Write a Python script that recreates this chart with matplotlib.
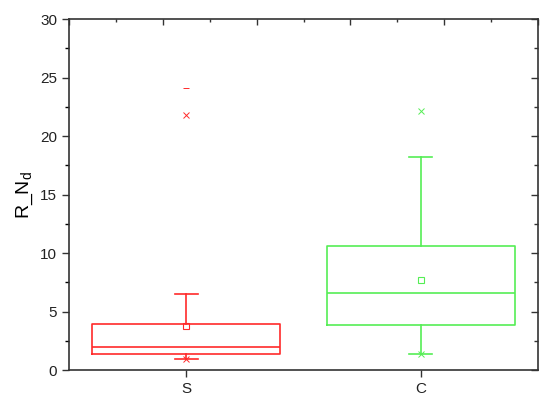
import matplotlib.pyplot as plt
from matplotlib.ticker import MultipleLocator

plt.rcParams['font.family'] = ['Liberation Sans', 'DejaVu Sans']
plt.rcParams['mathtext.default'] = 'regular'

# Box statistics
groups = ['S', 'C']
q1 = [1.35, 3.82]
med = [2.0, 6.55]
q3 = [3.9, 10.62]
whislo = [0.97, 1.4]
whishi = [6.52, 18.2]
means = [3.8, 7.7]
pct_hi = [21.8, 22.1]      # 'x' markers
max_vals = [24.1, None]    # '-' markers
colors = ['#ff2a2a', '#55ee55']

fig = plt.figure(figsize=(5.5, 4.08), dpi=100)
ax = fig.add_axes([0.1255, 0.0931, 0.8527, 0.8603])

stats = []
for i, g in enumerate(groups):
    stats.append(dict(label=g, q1=q1[i], med=med[i], q3=q3[i],
                      whislo=whislo[i], whishi=whishi[i], mean=means[i], fliers=[]))

pos = [1, 2]
for i in range(len(groups)):
    c = colors[i]
    ax.bxp([stats[i]], positions=[pos[i]], widths=0.8, showmeans=True,
           showfliers=False, capwidths=0.1,
           boxprops=dict(color=c, lw=1.2),
           medianprops=dict(color=c, lw=1.2),
           whiskerprops=dict(color=c, lw=1.2),
           capprops=dict(color=c, lw=1.2),
           meanprops=dict(marker='s', markersize=4, markerfacecolor='none',
                          markeredgecolor=c, markeredgewidth=0.8))
    ax.plot(pos[i], pct_hi[i], 'x', color=c, markersize=4, mew=0.7)
    ax.plot(pos[i], whislo[i], 'x', color=c, markersize=4, mew=0.7)
    if max_vals[i] is not None:
        ax.plot(pos[i], max_vals[i], '_', color=c, markersize=4, mew=0.7)

ax.set_xlim(0.5, 2.5)
ax.set_ylim(0, 30)
ax.set_xticks(pos)
ax.set_xticklabels(groups)
ax.yaxis.set_major_locator(MultipleLocator(5))
ax.yaxis.set_minor_locator(MultipleLocator(2.5))
ax.set_ylabel('R_N$_d$', fontsize=14, labelpad=4)

for s in ax.spines.values():
    s.set_color('#333333')
    s.set_linewidth(1.2)

ax.tick_params(axis='both', labelsize=11, colors='#333333', labelcolor='#222222')
ax.tick_params(axis='y', which='major', direction='out', length=5, width=1)
ax.tick_params(axis='y', which='minor', direction='out', length=3, width=1)
ax.tick_params(axis='x', which='major', direction='out', length=5, width=1)

# right axis with inward ticks
right = ax.secondary_yaxis('right')
right.yaxis.set_major_locator(MultipleLocator(5))
right.yaxis.set_minor_locator(MultipleLocator(2.5))
right.tick_params(which='major', direction='in', length=5, width=1, labelright=False, colors='#333333')
right.tick_params(which='minor', direction='in', length=3, width=1, colors='#333333')
right.spines['right'].set_visible(False)

# top axis with its own inward ticks
top = ax.secondary_xaxis('top')
top.set_xticks([0.5, 0.9, 1.3, 1.7, 2.1, 2.5])
top.set_xticks([0.7, 1.1, 1.5, 1.9, 2.3], minor=True)
top.tick_params(which='major', direction='in', length=4, width=1, labeltop=False, colors='#333333')
top.tick_params(which='minor', direction='in', length=2.5, width=1, colors='#333333')
top.set_xticklabels([])
top.spines['top'].set_visible(False)

fig.savefig('out.png', dpi=100)
